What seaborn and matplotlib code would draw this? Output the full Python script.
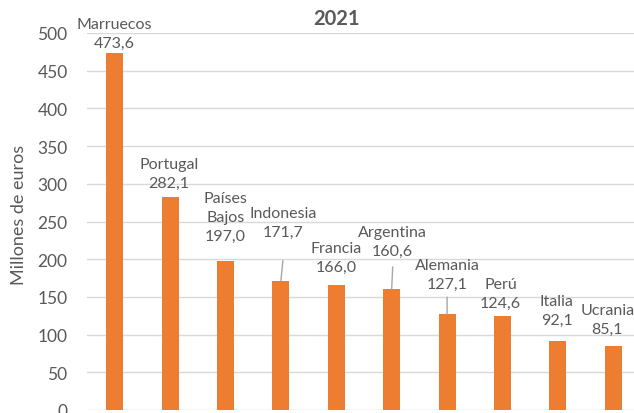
import matplotlib
matplotlib.use('Agg')
import matplotlib.pyplot as plt
import seaborn as sns
import pandas as pd

# Datos (millones de euros, 2021)
paises = ['Marruecos', 'Portugal', 'Países\nBajos', 'Indonesia', 'Francia',
          'Argentina', 'Alemania', 'Perú', 'Italia', 'Ucrania']
valores = [473.6, 282.1, 197.0, 171.7, 166.0, 160.6, 127.1, 124.6, 92.1, 85.1]
yticks = [0, 50, 100, 150, 200, 250, 300, 350, 400, 450, 500]

# desplazamiento de las etiquetas (px) respecto a la parte superior de la barra
label_dx = [0, -1, 0, 2, 0, 1, 0, -2, -1, -6]
label_dy = [6, 10, 22, 45, 14, 34, 26, 9, 17, 13]
# lineas guia (Indonesia, Argentina, Alemania)
leader_len = [0, 0, 0, 20, 0, 22, 17, 0, 0, 0]

naranja = '#ED7D31'
gris = '#595959'

sns.set_theme(style='white')
plt.rcParams['font.family'] = ['Lato', 'DejaVu Sans']

df = pd.DataFrame({'pais': paises, 'valor': valores})

fig = plt.figure(figsize=(6.34, 4.14), dpi=100)
ax = fig.add_axes([87 / 634, 3 / 414, 554 / 634, 377 / 414])

sns.barplot(data=df, x='pais', y='valor', color=naranja, width=0.31,
            saturation=1, edgecolor='none', ax=ax)

ax.set_xlim(-0.5, 9.5)
ax.set_ylim(0, 500)
ax.set_yticks(yticks)
ax.set_yticklabels([str(t) for t in yticks], fontsize=12.5, color=gris)
ax.set_xticks([])
ax.set_xlabel('')
ax.set_ylabel('Millones de euros', fontsize=13, color=gris)
ax.yaxis.set_label_coords(-0.108, 0.52)
ax.tick_params(axis='y', length=0, pad=14)
ax.yaxis.grid(True, color='#D9D9D9', linewidth=1.0)
ax.set_axisbelow(True)
for s in ax.spines.values():
    s.set_visible(False)

for i, (p, v) in enumerate(zip(paises, valores)):
    if leader_len[i]:
        ax.annotate('', xy=(i, v), xytext=(label_dx[i], leader_len[i]),
                    textcoords='offset pixels',
                    arrowprops=dict(arrowstyle='-', color='#A6A6A6', lw=1,
                                    shrinkA=0, shrinkB=0))
    etiqueta = p + '\n' + f'{v:.1f}'.replace('.', ',')
    ax.annotate(etiqueta, xy=(i, v), xytext=(label_dx[i], label_dy[i]),
                textcoords='offset pixels', ha='center', va='baseline',
                fontsize=11.5, color=gris, linespacing=1.45,
                annotation_clip=False)

fig.text(337 / 634, 1 - 19 / 414, '2021', ha='center', va='center',
         fontsize=14.5, fontweight='bold', color=gris)

fig.savefig('out.png', dpi=100)
